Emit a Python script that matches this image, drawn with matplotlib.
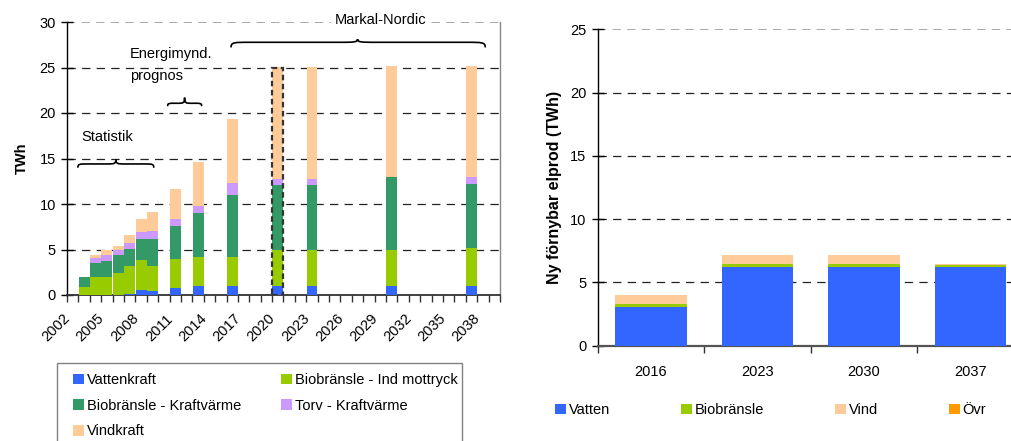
import matplotlib
matplotlib.use("Agg")
import matplotlib.pyplot as plt
import numpy as np
from matplotlib.path import Path
from matplotlib.patches import PathPatch, Rectangle

plt.rcParams['font.family'] = ['Liberation Sans', 'DejaVu Sans']
plt.rcParams['font.size'] = 10.5
plt.rcParams['lines.scale_dashes'] = False

# ---------------- data: left chart ----------------
axis_years = list(range(2002, 2040))
bar_years = [2003, 2004, 2005, 2006, 2007, 2008, 2009, 2011, 2013, 2016, 2020, 2023, 2030, 2037]
vattenkraft = [0, 0, 0, 0, 0.15, 0.55, 0.44, 0.81, 1.03, 1.03, 1.03, 1.03, 1.03, 1.03]
bio_ind = [0.9, 2.0, 2.0, 2.46, 3.09, 3.35, 2.8, 3.16, 3.16, 3.16, 3.93, 3.97, 3.97, 4.15]
bio_kraft = [1.1, 1.5, 1.75, 1.94, 1.83, 2.2, 2.94, 3.64, 4.78, 6.84, 7.17, 7.13, 8.0, 7.06]
torv = [0, 0.6, 0.65, 0.6, 0.67, 0.8, 0.88, 0.77, 0.85, 1.32, 0.66, 0.66, 0.0, 0.76]
vindkraft = [0, 0.3, 0.5, 0.4, 0.86, 1.4, 2.02, 3.31, 4.85, 6.95, 12.21, 12.21, 12.15, 12.15]
highlight_year = 2020
left_labels = ["Vattenkraft", "Biobränsle - Ind mottryck", "Biobränsle - Kraftvärme",
               "Torv - Kraftvärme", "Vindkraft"]

# ---------------- data: right chart ----------------
right_years = ["2016", "2023", "2030", "2037"]
vatten = [3.05, 6.21, 6.21, 6.21]
biobransle = [0.27, 0.26, 0.26, 0.16]
vind = [0.68, 0.71, 0.71, 0.08]
ovr = [0.0, 0.0, 0.0, 0.0]
right_labels = ["Vatten", "Biobränsle", "Vind", "Övr"]

C_BLUE = "#3366FF"
C_LIME = "#99CC00"
C_GREEN = "#339966"
C_LILAC = "#CC99FF"
C_PEACH = "#FFCC99"
C_ORANGE = "#FF9900"

W, H = 1012, 441
fig = plt.figure(figsize=(W / 100, H / 100), dpi=100)

def fx(px):
    return px / W

def fy(py):
    return 1 - py / H

# ---------------- left axes ----------------
ax = fig.add_axes([fx(67), fy(295), fx(500) - fx(67), fy(22) - fy(295)])
pos = np.array([y - axis_years[0] for y in bar_years], dtype=float)
series = [vattenkraft, bio_ind, bio_kraft, torv, vindkraft]
colors = [C_BLUE, C_LIME, C_GREEN, C_LILAC, C_PEACH]
bottom = np.zeros(len(bar_years))
handles = []
for vals, col, lab in zip(series, colors, left_labels):
    v = np.array(vals, dtype=float)
    h = ax.bar(pos, v, width=0.96, bottom=bottom, color=col, linewidth=0, label=lab, zorder=3)
    handles.append(h)
    bottom += v

# dashed highlight box around the 2020 bar
hi = bar_years.index(highlight_year)
ax.bar([pos[hi]], [bottom[hi]], width=0.96, fill=False, edgecolor="#333333",
       linestyle=(0, (4, 2.5)), linewidth=1.6, zorder=4)

ax.set_xlim(-0.5, len(axis_years) - 0.5)
ax.set_ylim(0, 30)
ax.set_yticks(range(0, 31, 5))
for yv in range(5, 30, 5):
    ax.axhline(yv, color="#222222", linestyle=(0, (6, 4.5)), linewidth=0.9, zorder=1)
ax.axhline(30, color="#999999", linestyle=(0, (6, 4.5)), linewidth=1.2, zorder=1)
ax.spines['top'].set_visible(False)
ax.spines['right'].set_color("#888888")
ax.spines['right'].set_linewidth(1.0)
ax.spines['left'].set_color("#000000")
ax.spines['left'].set_linewidth(1.0)
ax.spines['bottom'].set_color("#333333")
ax.spines['bottom'].set_linewidth(1.3)

boundaries = np.arange(-0.5, len(axis_years), 1.0)
ax.set_xticks(boundaries)
ax.set_xticklabels([])
ax.tick_params(axis='x', which='major', direction='out', length=5, width=1, color="#333333")
label_pos = np.arange(0, len(axis_years), 3)
ax.set_xticks(label_pos, minor=True)
ax.set_xticklabels([str(axis_years[i]) for i in label_pos], minor=True, rotation=45,
                   ha='right', va='bottom', rotation_mode='anchor')
ax.tick_params(axis='x', which='minor', length=0, pad=19, labelsize=10.5)
ax.tick_params(axis='y', direction='inout', length=8, width=1, pad=4, labelsize=10.5)
ax.set_ylabel("TWh", fontweight='bold', fontsize=10.5, labelpad=8)


def brace(axh, x1, x2, y, hu, hd, xm, d, lw=1.2):
    verts = [
        (x1, y - hd), (x1, y), (x1 + 0.2 * d, y), (x1 + d, y),
        (xm - d, y),
        (xm - 0.2 * d, y), (xm, y), (xm, y + hu),
        (xm, y), (xm + 0.2 * d, y), (xm + d, y),
        (x2 - d, y),
        (x2 - 0.2 * d, y), (x2, y), (x2, y - hd),
    ]
    codes = [Path.MOVETO, Path.CURVE4, Path.CURVE4, Path.CURVE4,
             Path.LINETO,
             Path.CURVE4, Path.CURVE4, Path.CURVE4,
             Path.CURVE4, Path.CURVE4, Path.CURVE4,
             Path.LINETO,
             Path.CURVE4, Path.CURVE4, Path.CURVE4]
    axh.add_patch(PathPatch(Path(verts, codes), fill=False, lw=lw, color="black",
                            clip_on=False, zorder=5, capstyle='round'))

brace(ax, 0.46, 7.11, 14.4, 0.52, 0.35, 3.79, 0.8)
brace(ax, 8.34, 11.31, 21.07, 0.62, 0.25, 9.82, 0.6)
brace(ax, 13.9, 36.2, 27.77, 0.35, 0.5, 25.0, 1.6)

ax.text(3.0, 17.4, "Statistik", ha='center', va='center', fontsize=10.5)
ax.text(5.0, 25.3, "Energimynd.\nprognos", ha='left', va='center', fontsize=10.5,
        linespacing=1.75)
ax.text(27.0, 30.2, "Markal-Nordic", ha='center', va='center', fontsize=10.5,
        bbox=dict(facecolor='white', edgecolor='none', pad=2.5), clip_on=False, zorder=6)

# left legend (frame drawn separately)
order = [0, 2, 4, 1, 3]
leg = fig.legend([handles[i] for i in order], [left_labels[i] for i in order],
                 loc='upper left', bbox_to_anchor=(fx(73), fy(373)), ncol=2, frameon=False,
                 borderpad=0, borderaxespad=0, handlelength=0.75, handleheight=0.75,
                 handletextpad=0.2, labelspacing=0.8, columnspacing=2.75, fontsize=10.5)
fig.patches.append(Rectangle((fx(57), fy(445)), fx(462) - fx(57), fy(363) - fy(445),
                             transform=fig.transFigure, fill=False, edgecolor="#808080",
                             linewidth=1.0))

# ---------------- right axes ----------------
ax2 = fig.add_axes([fx(597.7), fy(345.7), 4 * 106.5 / W, fy(29.3) - fy(345.7)])
x2 = np.arange(len(right_years))
rseries = [vatten, biobransle, vind, ovr]
rcolors = [C_BLUE, C_LIME, C_PEACH, C_ORANGE]
b2 = np.zeros(len(right_years))
rhandles = []
for vals, col, lab in zip(rseries, rcolors, right_labels):
    v = np.array(vals, dtype=float)
    h = ax2.bar(x2, v, width=0.67, bottom=b2, color=col, linewidth=0, label=lab, zorder=3)
    rhandles.append(h)
    b2 += v

ax2.set_xlim(-0.5, len(right_years) - 0.5)
ax2.set_ylim(0, 25)
ax2.set_yticks(range(0, 26, 5))
for yv in range(5, 25, 5):
    ax2.axhline(yv, color="#222222", linestyle=(0, (6, 4.5)), linewidth=0.9, zorder=1)
ax2.axhline(25, color="#999999", linestyle=(0, (6, 4.5)), linewidth=1.2, zorder=1)
for s in ['top', 'right']:
    ax2.spines[s].set_visible(False)
ax2.spines['left'].set_color("#000000")
ax2.spines['left'].set_linewidth(1.0)
ax2.spines['bottom'].set_color("#555555")
ax2.spines['bottom'].set_linewidth(1.6)
ax2.set_xticks(np.arange(-0.5, len(right_years), 1.0))
ax2.set_xticklabels([])
ax2.tick_params(axis='x', which='major', direction='out', length=5, width=1, color="#333333")
ax2.set_xticks(x2, minor=True)
ax2.set_xticklabels(right_years, minor=True)
ax2.tick_params(axis='x', which='minor', length=0, pad=14, labelsize=10.5)
ax2.tick_params(axis='y', direction='inout', length=8, width=1, pad=4, labelsize=10.5)
ax2.set_ylabel("Ny förnybar elprod (TWh)", fontweight='bold', fontsize=11.5, labelpad=6)

fig.legend(rhandles, right_labels, loc='center left', bbox_to_anchor=(fx(555), fy(410)),
           ncol=4, frameon=False, borderpad=0, borderaxespad=0, handlelength=0.75,
           handleheight=0.75, handletextpad=0.2, columnspacing=4.85, fontsize=10.5)

fig.savefig("out.png", dpi=100)
